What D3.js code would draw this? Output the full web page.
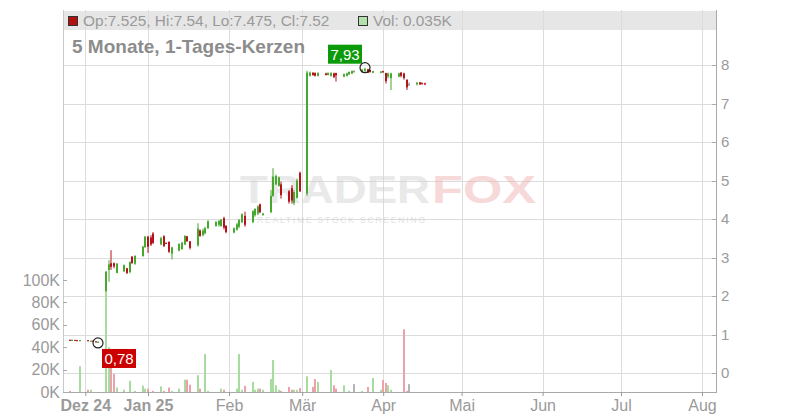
<!DOCTYPE html>
<html><head><meta charset="utf-8">
<script src="https://cdn.jsdelivr.net/npm/d3@7"></script>
<style>html,body{margin:0;padding:0;background:#fff;} svg{display:block;font-family:"Liberation Sans",Arial,sans-serif;}</style>
</head><body><svg id="c" width="800" height="420"></svg>
<script>
const dates = [
"2024-12-02","2024-12-03","2024-12-04","2024-12-05","2024-12-06",
"2024-12-09","2024-12-10","2024-12-11","2024-12-12","2024-12-13",
"2024-12-16","2024-12-17","2024-12-18","2024-12-19","2024-12-20",
"2024-12-23","2024-12-24","2024-12-25","2024-12-26","2024-12-27",
"2024-12-30","2024-12-31","2025-01-01","2025-01-02","2025-01-03",
"2025-01-06","2025-01-07","2025-01-08","2025-01-09","2025-01-10",
"2025-01-13","2025-01-14","2025-01-15","2025-01-16","2025-01-17",
"2025-01-20","2025-01-21","2025-01-22","2025-01-23","2025-01-24",
"2025-01-27","2025-01-28","2025-01-29","2025-01-30","2025-01-31",
"2025-02-03","2025-02-04","2025-02-05","2025-02-06","2025-02-07",
"2025-02-10","2025-02-11","2025-02-12","2025-02-13","2025-02-14",
"2025-02-17","2025-02-18","2025-02-19","2025-02-20","2025-02-21",
"2025-02-24","2025-02-25","2025-02-26","2025-02-27","2025-02-28",
"2025-03-03","2025-03-04","2025-03-05","2025-03-06","2025-03-07",
"2025-03-10","2025-03-11","2025-03-12","2025-03-13","2025-03-14",
"2025-03-17","2025-03-18","2025-03-19","2025-03-20","2025-03-21",
"2025-03-24","2025-03-25","2025-03-26","2025-03-27","2025-03-28",
"2025-03-31","2025-04-01","2025-04-02","2025-04-03","2025-04-04",
"2025-04-07","2025-04-08","2025-04-09","2025-04-10","2025-04-11",
"2025-04-14","2025-04-15","2025-04-16","2025-04-17"];
const open = [
0.86,0.85,0.86,0.85,0.83, 0.85,0.83,0.84,0.82,0.80,
0.80,2.68,2.85,2.85,2.60, 2.64,2.72,2.62,3.02,2.84,
3.04,3.27,3.54,3.52,3.62, 3.34,3.55,3.38,3.41,3.10,
3.18,3.22,3.34,3.55,3.42, 3.32,3.70,3.58,3.63,3.76,
3.82,3.85,3.82,4.02,3.82, 3.65,3.72,3.80,3.92,4.08,
3.92,4.10,4.14,4.38,4.10, 4.18,4.60,4.90,4.86,4.90,
4.72,4.80,4.42,4.55,5.20, 4.66,7.72,7.80,7.79,7.72,
7.78,7.74,7.72,7.78,7.79, 7.70,7.72,7.76,7.78,7.84,
7.82,7.85,7.89,7.87,7.80, 7.80,7.84,7.79,7.70,7.66,
7.70,7.80,7.78,7.62,7.50, 7.50,7.55,7.53,7.525];
const high = [
0.87,0.87,0.86,0.86,0.86, 0.85,0.84,0.84,0.83,0.82,
2.65,2.93,3.19,2.87,2.86, 2.82,2.73,2.90,3.04,3.06,
3.30,3.56,3.56,3.58,3.66, 3.54,3.58,3.39,3.41,3.28,
3.37,3.41,3.58,3.56,3.43, 3.89,3.73,3.75,3.80,3.97,
3.95,3.97,4.00,4.06,3.84, 3.78,3.90,4.00,4.15,4.19,
4.23,4.28,4.36,4.40,4.16, 4.75,5.32,5.15,5.10,4.97,
4.75,4.88,4.75,5.05,5.23, 7.85,7.83,7.81,7.81,7.81,
7.80,7.81,7.81,7.80,7.80, 7.78,7.80,7.83,7.86,7.86,
7.90,7.93,7.90,7.88,7.85, 7.84,7.85,7.80,7.80,7.80,
7.80,7.82,7.80,7.62,7.55, 7.56,7.56,7.55,7.54];
const low = [
0.84,0.84,0.84,0.83,0.83, 0.83,0.82,0.81,0.80,0.78,
0.79,2.37,2.68,2.72,2.59, 2.63,2.57,2.59,2.83,2.81,
3.02,3.25,3.12,3.30,3.35, 3.32,3.27,3.36,3.12,2.95,
3.16,3.20,3.32,3.41,3.21, 3.28,3.54,3.55,3.60,3.74,
3.80,3.80,3.80,3.73,3.63, 3.63,3.70,3.76,3.89,3.80,
3.89,4.06,4.10,4.15,4.09, 4.15,4.58,4.88,4.84,4.53,
4.40,4.40,4.36,4.53,4.70, 4.60,7.70,7.72,7.70,7.70,
7.73,7.73,7.70,7.66,7.57, 7.68,7.70,7.74,7.76,7.80,
7.80,7.82,7.79,7.80,7.79, 7.78,7.80,7.52,7.65,7.35,
7.68,7.68,7.62,7.35,7.46, 7.47,7.48,7.49,7.475];
const close = [
0.85,0.86,0.85,0.84,0.85, 0.83,0.84,0.82,0.81,0.81,
2.63,2.82,2.76,2.77,2.84, 2.80,2.60,2.88,2.86,3.04,
3.28,3.54,3.28,3.34,3.38, 3.50,3.30,3.37,3.15,3.26,
3.35,3.38,3.56,3.42,3.25, 3.75,3.56,3.70,3.76,3.94,
3.92,3.95,3.98,3.78,3.66, 3.76,3.86,3.97,4.12,3.85,
4.20,4.26,4.32,4.18,4.14, 4.60,5.10,5.12,5.08,4.62,
4.45,4.48,4.70,5.00,4.72, 7.80,7.80,7.74,7.72,7.79,
7.74,7.79,7.79,7.69,7.73, 7.76,7.78,7.82,7.84,7.84,
7.88,7.90,7.80,7.82,7.84, 7.83,7.81,7.58,7.78,7.78,
7.78,7.72,7.66,7.42,7.50, 7.54,7.50,7.51,7.52];
const volume = [
1,0,0,0,23, 2,2,0,0,0,
90,40,38,16,4, 2,0,10,0,1,
5.6,3,3,0,1, 5,1,0,4,1,
3,0,11,11,6.5, 15,3,0,34,1,
0,0,3,2,0, 0,3,34,2,5.5,
9,2,3,3,2, 11.6,28.6,6,2,1,
4.5,2,2,2,3.5, 14,0,4.5,11.6,9,
0,0,19.6,6,3, 6,0,1,0,7,
1,0,4.5,0,12.5, 2,10.7,8,6,2,
0,0,56,1,7, 0,0,0,0.035];
const priceTicks = [0,1,2,3,4,5,6,7,8];
const volumeTicks = [0,20,40,60,80,100];
const monthTicks = ["2024-12-08","2025-01-01","2025-02-01","2025-03-01","2025-04-01","2025-05-01","2025-06-01","2025-07-01","2025-08-01"];
const monthLabels = ["Dez 24","Jan 25","Feb","Mär","Apr","Mai","Jun","Jul","Aug"];
const titleText = "5 Monate, 1-Tages-Kerzen";

const parse = d3.timeParse("%Y-%m-%d");
const data = dates.map((d,i)=>({date:parse(d),o:open[i],h:high[i],l:low[i],c:close[i],v:volume[i]}));

const L=63, R=716, T=10, B=392;
const FONT="'Liberation Sans',Arial,sans-serif";
const svg = d3.select("#c");
const x = d3.scaleTime().domain([parse("2025-01-01"), parse("2025-08-01")]).range([148,702]);
const y = d3.scaleLinear().domain([0,8]).range([373,65]);
const yv = d3.scaleLinear().domain([0,100]).range([392,280]);

const GREEN="#46a82e", RED="#b5121b", VGREEN="#a8dba0", VRED="#eda2ab", VGRAY="#b4b4b4";
const txt="#9a9a9a";

svg.append("defs").append("clipPath").attr("id","pc").append("rect")
  .attr("x",L).attr("y",T).attr("width",R-L).attr("height",B-T);

// header band
svg.append("rect").attr("x",L).attr("y",11).attr("width",R-L).attr("height",19).attr("fill","#e6e6e6");

// grid
const g = svg.append("g");
g.selectAll(".hg").data(priceTicks).join("line")
  .attr("x1",L).attr("x2",R).attr("y1",d=>Math.round(y(d))+0.5).attr("y2",d=>Math.round(y(d))+0.5)
  .attr("stroke","#dcdcdc").attr("stroke-width",1);
const mt = monthTicks.map(parse);
g.selectAll(".vg").data(mt).join("line")
  .attr("x1",d=>Math.round(x(d))+0.5).attr("x2",d=>Math.round(x(d))+0.5).attr("y1",T).attr("y2",B)
  .attr("stroke","#dcdcdc").attr("stroke-width",1);

// watermark
const wm = svg.append("g").attr("opacity",0.5).attr("font-family",FONT).attr("font-weight","bold");
wm.append("text").attr("x",240).attr("y",203).attr("font-size",38).attr("textLength",190)
  .attr("lengthAdjust","spacingAndGlyphs").attr("fill","#d4d4d4").text("TRADER");
wm.append("text").attr("x",432).attr("y",203).attr("font-size",38).attr("textLength",104)
  .attr("lengthAdjust","spacingAndGlyphs").attr("fill","#f0b4b4").text("FOX");
wm.append("text").attr("x",257).attr("y",223).attr("font-size",8.5).attr("textLength",168)
  .attr("lengthAdjust","spacing").attr("font-weight","normal").attr("fill","#c8c8c8").text("REALTIME STOCK SCREENING");

// candles
const cg = svg.append("g").attr("clip-path","url(#pc)");
const cx = d=>Math.round(x(d.date));
const col = d=> d.c>d.o?GREEN:(d.c<d.o?RED:"#888");
cg.selectAll(".wick").data(data).join("rect")
  .attr("x",d=>cx(d)-0.5).attr("width",1)
  .attr("y",d=>y(d.h)).attr("height",d=>Math.max(1,y(d.l)-y(d.h))).attr("fill",col);
cg.selectAll(".body").data(data).join("rect")
  .attr("x",d=>cx(d)-1).attr("width",2)
  .attr("y",d=>y(Math.max(d.o,d.c))).attr("height",d=>Math.max(1,Math.abs(y(d.o)-y(d.c)))).attr("fill",col);

// volume
cg.selectAll(".vol").data(data.filter(d=>d.v>0)).join("rect")
  .attr("x",d=>cx(d)-1).attr("width",2)
  .attr("y",d=>yv(d.v)).attr("height",d=>Math.max(0.5,B-yv(d.v)))
  .attr("fill",d=> d.c>d.o?VGREEN:(d.c<d.o?VRED:VGRAY));

// axes lines
svg.append("line").attr("x1",L+0.5).attr("x2",L+0.5).attr("y1",T).attr("y2",B).attr("stroke","#c8c8c8");
svg.append("line").attr("x1",R+0.5).attr("x2",R+0.5).attr("y1",T).attr("y2",B+1).attr("stroke","#aaa");
svg.append("line").attr("x1",L).attr("x2",R+1).attr("y1",B+0.5).attr("y2",B+0.5).attr("stroke","#aaa");

// right price axis
const ra = svg.append("g").attr("transform",`translate(${R+1},0)`)
  .call(d3.axisRight(y).tickValues(priceTicks).tickSize(0).tickPadding(4).tickFormat(d3.format("d")));
ra.select(".domain").remove();
ra.selectAll("text").attr("fill",txt).attr("font-size",15).attr("font-family",FONT);
svg.selectAll(".rt").data(priceTicks).join("line")
  .attr("x1",R-4).attr("x2",R).attr("y1",d=>Math.round(y(d))+0.5).attr("y2",d=>Math.round(y(d))+0.5).attr("stroke","#aaa");

// left volume axis
const la = svg.append("g").attr("transform",`translate(${L},0)`)
  .call(d3.axisLeft(yv).tickValues(volumeTicks).tickSize(0).tickPadding(3).tickFormat(d=>d+"K"));
la.select(".domain").remove();
la.selectAll("text").attr("fill",txt).attr("font-size",16).attr("font-family",FONT);
svg.selectAll(".lt").data(volumeTicks).join("line")
  .attr("x1",L).attr("x2",L+4).attr("y1",d=>Math.round(yv(d))+0.5).attr("y2",d=>Math.round(yv(d))+0.5).attr("stroke","#aaa");

// bottom axis
const ba = svg.append("g").attr("transform",`translate(0,${B})`)
  .call(d3.axisBottom(x).tickValues(mt).tickSize(4).tickPadding(4).tickFormat((d,i)=>monthLabels[i]));
ba.select(".domain").remove();
ba.selectAll("line").attr("stroke","#999");
ba.selectAll("text").attr("fill",txt).attr("font-size",16).attr("font-family",FONT)
  .attr("font-weight",(d,i)=>/\d/.test(monthLabels[i])?"bold":"normal");

// legend
const last = data[data.length-1];
svg.append("rect").attr("x",68.5).attr("y",16.5).attr("width",9).attr("height",9)
  .attr("fill",last.c<last.o?"#b01010":"#3a9a2a").attr("stroke","#333");
svg.append("text").attr("x",83).attr("y",26).attr("font-size",15.4).attr("fill",txt)
  .text(`Op:${last.o}, Hi:${last.h}, Lo:${last.l}, Cl:${last.c}`);
svg.append("rect").attr("x",358.5).attr("y",16.5).attr("width",9).attr("height",9)
  .attr("fill","#b3e0ad").attr("stroke","#333");
svg.append("text").attr("x",373).attr("y",26).attr("font-size",15.4).attr("fill",txt)
  .text(`Vol: ${d3.format(".3f")(last.v)}K`);

// title
svg.append("text").attr("x",72).attr("y",53).attr("font-size",19).attr("font-weight","bold").attr("fill","#8c8c8c").text(titleText);

// hi/lo markers
const hiD = data.reduce((a,b)=>b.h>a.h?b:a);
const loD = data.reduce((a,b)=>b.l<a.l?b:a);
const fmt = v=>d3.format(".2f")(v).replace(".",",");
function marker(d,val,isHi){
  const px = cx(d), py = y(val);
  const bx = isHi? px-37 : px+4, by = isHi? py-23 : py+6;
  svg.append("rect").attr("x",bx).attr("y",by).attr("width",34).attr("height",19).attr("fill",isHi?"#0a9a0a":"#cc0000");
  svg.append("text").attr("x",bx+17).attr("y",by+15).attr("text-anchor","middle").attr("font-size",15).attr("fill","#fff").text(fmt(val));
  svg.append("circle").attr("cx",px).attr("cy",py).attr("r",5).attr("fill","none").attr("stroke","#222").attr("stroke-width",1.2);
}
marker(hiD,hiD.h,true);
marker(loD,loD.l,false);
</script></body></html>
